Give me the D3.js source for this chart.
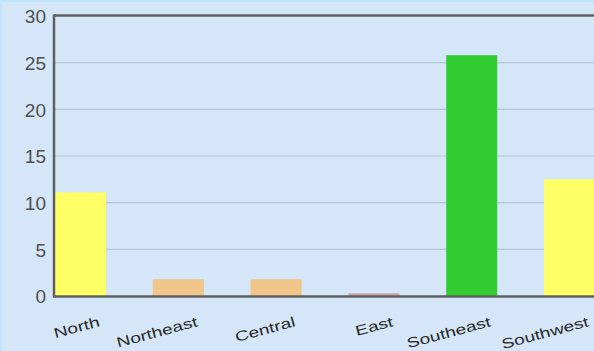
<!DOCTYPE html>
<html>
<head>
<meta charset="utf-8">
<script src="https://cdn.jsdelivr.net/npm/d3@7/dist/d3.min.js"></script>
<style>
  html, body { margin: 0; padding: 0; background: #d4e6f7; }
  svg { display: block; }
</style>
</head>
<body>
<svg id="chart" width="594" height="351"></svg>
<script>
// Regional counts
const categories = ["North", "Northeast", "Central", "East", "Southeast", "Southwest"];
const values = [11.1, 1.8, 1.8, 0.3, 25.8, 12.5];
const colors = ["#ffff66", "#f0c68a", "#f0c68a", "#c9a9ad", "#33cc33", "#ffff66"];
const yTicks = [0, 5, 10, 15, 20, 25, 30];

const svg = d3.select("#chart");
const W = 594, H = 351;

// frame of the page
svg.append("rect").attr("x", 0).attr("y", 0).attr("width", W).attr("height", H).attr("fill", "#d4e6f7");
svg.append("rect").attr("x", 0).attr("y", 0).attr("width", 2).attr("height", H).attr("fill", "#bfe5f8");
svg.append("rect").attr("x", 0).attr("y", 0).attr("width", W).attr("height", 2).attr("fill", "#bfe5f8");

const plotLeft = 55, plotTop = 16, plotBottom = 296, plotRight = 600;

const y = d3.scaleLinear().domain([0, 30]).range([plotBottom, plotTop]);
const x = d3.scaleBand().domain(categories).range([55, 595]).paddingInner(0.478).paddingOuter(0);

// horizontal gridlines
svg.append("g").selectAll("line").data(yTicks.filter(t => t > 0 && t < 30)).join("line")
  .attr("x1", plotLeft).attr("x2", plotRight)
  .attr("y1", d => y(d)).attr("y2", d => y(d))
  .attr("stroke", "#b5c6d4").attr("stroke-width", 1.2);

// bars
svg.append("g").selectAll("rect").data(categories).join("rect")
  .attr("x", d => x(d))
  .attr("width", x.bandwidth())
  .attr("y", (d, i) => y(values[i]))
  .attr("height", (d, i) => plotBottom - y(values[i]))
  .attr("fill", (d, i) => colors[i]);

// top border line
svg.append("line").attr("x1", plotLeft - 1).attr("x2", plotRight)
  .attr("y1", plotTop - 0.5).attr("y2", plotTop - 0.5)
  .attr("stroke", "#5f5f5f").attr("stroke-width", 2.5);

// y axis
const yAxis = d3.axisLeft(y).tickValues(yTicks).tickSize(0).tickPadding(8);
const gy = svg.append("g").attr("transform", `translate(${plotLeft - 1},0)`).call(yAxis);
gy.select(".domain").attr("stroke", "#5f5f5f").attr("stroke-width", 2.5)
  .attr("d", `M0,${plotTop - 1.5}V${plotBottom + 1}`);
gy.selectAll("text").attr("font-family", "Liberation Sans, Arial, sans-serif")
  .attr("font-size", 19).attr("fill", "#505050").attr("dy", "0.36em");

// x axis baseline
svg.append("line").attr("x1", plotLeft - 2).attr("x2", plotRight)
  .attr("y1", plotBottom + 0.5).attr("y2", plotBottom + 0.5)
  .attr("stroke", "#5f5f5f").attr("stroke-width", 2.5);

// rotated category labels
const xAxis = d3.axisBottom(x).tickSize(0);
const gx = svg.append("g").attr("transform", `translate(0,${plotBottom})`).call(xAxis);
gx.select(".domain").remove();
gx.selectAll(".tick text")
  .attr("font-family", "Liberation Sans, Arial, sans-serif")
  .attr("font-size", 14).attr("fill", "#2a2a2a")
  .attr("text-anchor", "end")
  .attr("x", 0).attr("y", 0).attr("dy", 0)
  .attr("transform", "translate(20,30) rotate(-15) scale(1.37,1)");
</script>
</body>
</html>
